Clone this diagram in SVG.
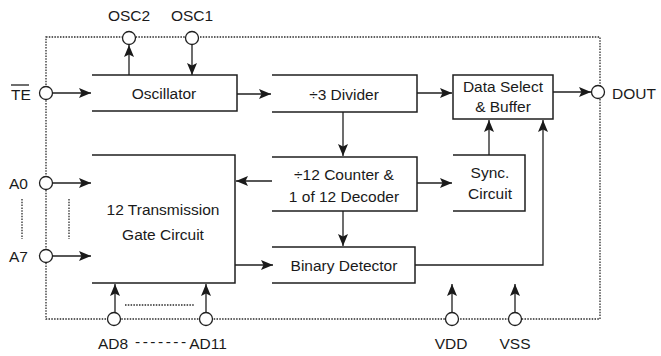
<svg xmlns="http://www.w3.org/2000/svg" width="661" height="356" viewBox="0 0 661 356">
<defs>
<style>
.t{font-family:"Liberation Sans",Arial,sans-serif;font-size:15.5px;fill:#1a1a1a}
.m{text-anchor:middle}
.b{fill:none;stroke:#1f1f1f;stroke-width:1.5}
.w{fill:none;stroke:#1f1f1f;stroke-width:1.3}
.d{fill:none;stroke:#2a2a2a;stroke-width:1.3;stroke-dasharray:1.5 1.3}
.p{fill:#fff;stroke:#1f1f1f;stroke-width:1.3}
</style>
<marker id="ah" markerUnits="userSpaceOnUse" markerWidth="14" markerHeight="10" refX="12" refY="5" orient="auto">
<path d="M0,0 L12,5 L0,10 L2.5,5 z" fill="#1a1a1a"/>
</marker>
</defs>
<rect width="661" height="356" fill="#fff"/>
<g id="border">
<path class="d" d="M46,37 H600 V319 H46 Z"/>
<path class="d" d="M22,199 V239 M69,199 V239 M125,305 H195"/>
</g>
<g id="connectors">
<path class="w" marker-end="url(#ah)" d="M52,93 H91"/>
<path class="w" marker-end="url(#ah)" d="M129,75 V45"/>
<path class="w" marker-end="url(#ah)" d="M192,44 V75"/>
<path class="w" marker-end="url(#ah)" d="M237,94 H271"/>
<path class="w" marker-end="url(#ah)" d="M417,93 H452"/>
<path class="w" marker-end="url(#ah)" d="M553,92 H591"/>
<path class="w" marker-end="url(#ah)" d="M343,112 V156"/>
<path class="w" marker-end="url(#ah)" d="M417,183 H452"/>
<path class="w" marker-end="url(#ah)" d="M272,181 H236"/>
<path class="w" marker-end="url(#ah)" d="M343,211 V246"/>
<path class="w" marker-end="url(#ah)" d="M489,155 V120"/>
<path class="w" marker-end="url(#ah)" d="M415,265 H543 V120"/>
<path class="w" marker-end="url(#ah)" d="M235,265 H273"/>
<path class="w" marker-end="url(#ah)" d="M52,183 H91"/>
<path class="w" marker-end="url(#ah)" d="M52,256 H91"/>
<path class="w" marker-end="url(#ah)" d="M115,313 V284"/>
<path class="w" marker-end="url(#ah)" d="M206,313 V284"/>
<path class="w" marker-end="url(#ah)" d="M452,313 V284"/>
<path class="w" marker-end="url(#ah)" d="M515,313 V284"/>
</g>
<g id="oscillator">
<path class="b" d="M92,75 H237 V111 H92"/>
<text class="t m" x="164" y="99">Oscillator</text>
</g>
<g id="divider">
<path class="b" d="M272,75 H417 V112 H272"/>
<text class="t m" x="344" y="100">÷3 Divider</text>
</g>
<g id="dataselect">
<rect class="b" x="453" y="75" width="100" height="44"/>
<text class="t m" x="503" y="92">Data Select</text>
<text class="t m" x="503" y="112">&amp; Buffer</text>
</g>
<g id="counter">
<path class="b" d="M272,157 H417 V211 H272"/>
<text class="t m" x="344" y="180">÷12 Counter &amp;</text>
<text class="t m" x="344" y="202">1 of 12 Decoder</text>
</g>
<g id="sync">
<path class="b" d="M453,155 H525 V211 H453"/>
<text class="t m" x="490" y="178">Sync.</text>
<text class="t m" x="490" y="199">Circuit</text>
</g>
<g id="transmission">
<path class="b" d="M92,155 H235 V283 H92"/>
<text class="t m" x="163" y="215">12 Transmission</text>
<text class="t m" x="163" y="240">Gate Circuit</text>
</g>
<g id="binary">
<path class="b" d="M272,247 H415 V283 H272"/>
<text class="t m" x="344" y="271">Binary Detector</text>
</g>
<g id="pin-osc2"><circle class="p" cx="129" cy="38" r="6.5"/><text class="t m" x="129" y="21">OSC2</text></g>
<g id="pin-osc1"><circle class="p" cx="192" cy="38" r="6.5"/><text class="t m" x="192" y="21">OSC1</text></g>
<g id="pin-te"><circle class="p" cx="46" cy="93" r="6.5"/><text class="t" x="11" y="100">TE</text><path class="w" d="M11,85 H29"/></g>
<g id="pin-a0"><circle class="p" cx="46" cy="183" r="6.5"/><text class="t" x="9" y="189">A0</text></g>
<g id="pin-a7"><circle class="p" cx="46" cy="256" r="6.5"/><text class="t" x="9" y="262">A7</text></g>
<g id="pin-ad8"><circle class="p" cx="114" cy="319" r="6.5"/><text class="t m" x="113" y="349">AD8</text></g>
<g id="pin-ad11"><circle class="p" cx="206" cy="319" r="6.5"/><text class="t m" x="208" y="349">AD11</text></g>
<text class="t" x="135" y="347" font-size="10" letter-spacing="2.5">-------</text>
<g id="pin-vdd"><circle class="p" cx="452" cy="319" r="6.5"/><text class="t m" x="451" y="349">VDD</text></g>
<g id="pin-vss"><circle class="p" cx="515" cy="319" r="6.5"/><text class="t m" x="515" y="349">VSS</text></g>
<g id="pin-dout"><circle class="p" cx="598" cy="92" r="6.5"/><text class="t" x="612" y="99">DOUT</text></g>
</svg>
